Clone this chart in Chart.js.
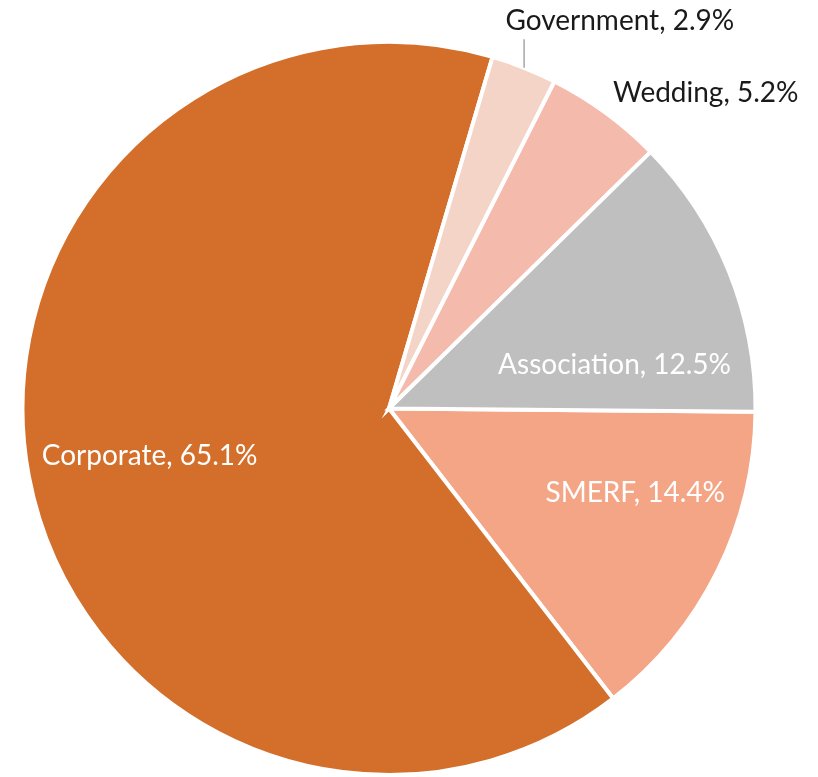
<!DOCTYPE html>
<html>
<head>
<meta charset="utf-8">
<script src="https://cdn.jsdelivr.net/npm/chart.js@4.4.1/dist/chart.umd.min.js"></script>
<style>
  html, body { margin: 0; padding: 0; background: #fff; }
  #wrap { width: 818px; height: 777px; position: relative; }
</style>
</head>
<body>
<div id="wrap"><canvas id="pieChart"></canvas></div>
<script>
// slice data, clockwise from 3 o'clock
const segments = ['SMERF', 'Corporate', 'Government', 'Wedding', 'Association'];
const shares = [14.4, 65.1, 2.9, 5.2, 12.5];
const sliceColors = ['#F4A586', '#D36F2A', '#F4D4C6', '#F4BAAB', '#BFBFBF'];

// label placement: angle (deg, clockwise from east) and distance as fraction of radius
const labelSpots = [
    { ang: 18.9, r: 0.71, color: '#FFFFFF' },
    { ang: 168.7, r: 0.666, color: '#FFFFFF' },
    { ang: -59.2, r: 1.23, color: '#1A1A1A', leader: true },
    { ang: -44.9, r: 1.22, color: '#1A1A1A' },
    { ang: -11, r: 0.627, color: '#FFFFFF' }
];

const pieLabels = {
    id: 'pieLabels',
    afterDatasetsDraw(chart) {
        const ctx = chart.ctx;
        const meta = chart.getDatasetMeta(0);
        ctx.save();
        ctx.font = '28px Lato, "Open Sans", sans-serif';
        ctx.textAlign = 'center';
        ctx.textBaseline = 'middle';
        meta.data.forEach((arc, i) => {
            const spot = labelSpots[i];
            const a = spot.ang * Math.PI / 180;
            const x = arc.x + Math.cos(a) * arc.outerRadius * spot.r;
            const y = arc.y + Math.sin(a) * arc.outerRadius * spot.r;
            if (spot.leader) {
                const mid = (arc.startAngle + arc.endAngle) / 2;
                const ex = arc.x + Math.cos(mid) * arc.outerRadius;
                const ey = arc.y + Math.sin(mid) * arc.outerRadius;
                ctx.strokeStyle = '#A6A6A6';
                ctx.lineWidth = 1.5;
                ctx.beginPath();
                ctx.moveTo(ex, ey);
                ctx.lineTo(ex, y + 18);
                ctx.stroke();
            }
            ctx.fillStyle = spot.color;
            ctx.fillText(segments[i] + ', ' + shares[i].toFixed(1) + '%', x, y);
        });
        ctx.restore();
    }
};

new Chart(document.getElementById('pieChart'), {
    type: 'pie',
    data: {
        labels: segments,
        datasets: [{
            data: shares,
            backgroundColor: sliceColors,
            borderColor: '#FFFFFF',
            borderWidth: 4,
            borderJoinStyle: 'miter'
        }]
    },
    options: {
        responsive: true,
        maintainAspectRatio: false,
        animation: false,
        rotation: 90.5,
        layout: { padding: { left: 18, right: 58, top: 40, bottom: -3 } },
        plugins: {
            legend: { display: false },
            tooltip: { enabled: false }
        }
    },
    plugins: [pieLabels]
});
</script>
</body>
</html>
